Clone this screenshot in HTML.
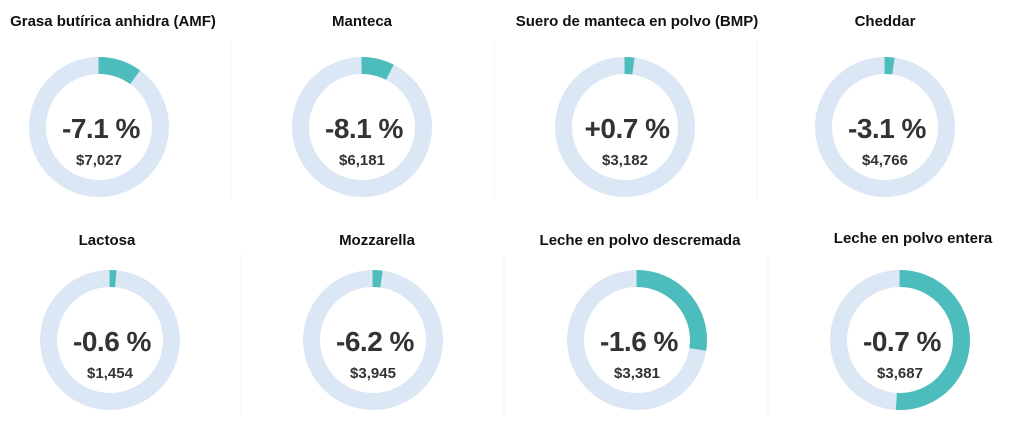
<!DOCTYPE html>
<html><head><meta charset="utf-8"><style>
html,body{margin:0;padding:0;background:#fff;width:1024px;height:422px;overflow:hidden}
svg{display:block}
text{font-family:"Liberation Sans",sans-serif;fill:#2b2b2b}
.t{font-size:15px;font-weight:bold;text-anchor:middle;fill:#111}
.p{font-size:28px;font-weight:bold;letter-spacing:-0.5px;text-anchor:middle;fill:#333}
.v{font-size:15px;font-weight:bold;text-anchor:middle;fill:#333}
</style></head><body>
<svg width="1024" height="422" viewBox="0 0 1024 422">
<g stroke="#f6f6f6" stroke-width="1"><line x1="231" y1="40" x2="231" y2="200"/><line x1="494" y1="40" x2="494" y2="200"/><line x1="757" y1="40" x2="757" y2="200"/>
<line x1="241" y1="255" x2="241" y2="415"/><line x1="504" y1="255" x2="504" y2="415"/><line x1="768" y1="255" x2="768" y2="415"/></g>
<g fill="none" stroke-width="17">
<circle cx="99" cy="127" r="61.5" stroke="#dce7f5"/>
<circle cx="362" cy="127" r="61.5" stroke="#dce7f5"/>
<circle cx="625" cy="127" r="61.5" stroke="#dce7f5"/>
<circle cx="885" cy="127" r="61.5" stroke="#dce7f5"/>
<circle cx="110" cy="340" r="61.5" stroke="#dce7f5"/>
<circle cx="373" cy="340" r="61.5" stroke="#dce7f5"/>
<circle cx="637" cy="340" r="61.5" stroke="#dce7f5"/>
<circle cx="900" cy="340" r="61.5" stroke="#dce7f5"/>
<g stroke="#4dbcbc">
<circle cx="99" cy="127" r="61.5" pathLength="100" stroke-dasharray="10 90" transform="rotate(-90 99 127)"/>
<circle cx="362" cy="127" r="61.5" pathLength="100" stroke-dasharray="7.5 92.5" transform="rotate(-90 362 127)"/>
<circle cx="625" cy="127" r="61.5" pathLength="100" stroke-dasharray="2.2 97.8" transform="rotate(-90 625 127)"/>
<circle cx="885" cy="127" r="61.5" pathLength="100" stroke-dasharray="2.2 97.8" transform="rotate(-90 885 127)"/>
<circle cx="110" cy="340" r="61.5" pathLength="100" stroke-dasharray="1.5 98.5" transform="rotate(-90 110 340)"/>
<circle cx="373" cy="340" r="61.5" pathLength="100" stroke-dasharray="2.2 97.8" transform="rotate(-90 373 340)"/>
<circle cx="637" cy="340" r="61.5" pathLength="100" stroke-dasharray="27.5 72.5" transform="rotate(-90 637 340)"/>
<circle cx="900" cy="340" r="61.5" pathLength="100" stroke-dasharray="51 49" transform="rotate(-90 900 340)"/>
</g></g>
<text class="t" x="113" y="26">Grasa butírica anhidra (AMF)</text>
<text class="t" x="362" y="26">Manteca</text>
<text class="t" x="637" y="26">Suero de manteca en polvo (BMP)</text>
<text class="t" x="885" y="26">Cheddar</text>
<text class="t" x="107" y="245">Lactosa</text>
<text class="t" x="377" y="245">Mozzarella</text>
<text class="t" x="640" y="245">Leche en polvo descremada</text>
<text class="t" x="913" y="243">Leche en polvo entera</text>
<text class="p" x="101" y="138">-7.1 %</text><text class="v" x="99" y="165">$7,027</text>
<text class="p" x="364" y="138">-8.1 %</text><text class="v" x="362" y="165">$6,181</text>
<text class="p" x="627" y="138">+0.7 %</text><text class="v" x="625" y="165">$3,182</text>
<text class="p" x="887" y="138">-3.1 %</text><text class="v" x="885" y="165">$4,766</text>
<text class="p" x="112" y="351">-0.6 %</text><text class="v" x="110" y="378">$1,454</text>
<text class="p" x="375" y="351">-6.2 %</text><text class="v" x="373" y="378">$3,945</text>
<text class="p" x="639" y="351">-1.6 %</text><text class="v" x="637" y="378">$3,381</text>
<text class="p" x="902" y="351">-0.7 %</text><text class="v" x="900" y="378">$3,687</text>
</svg>
</body></html>
